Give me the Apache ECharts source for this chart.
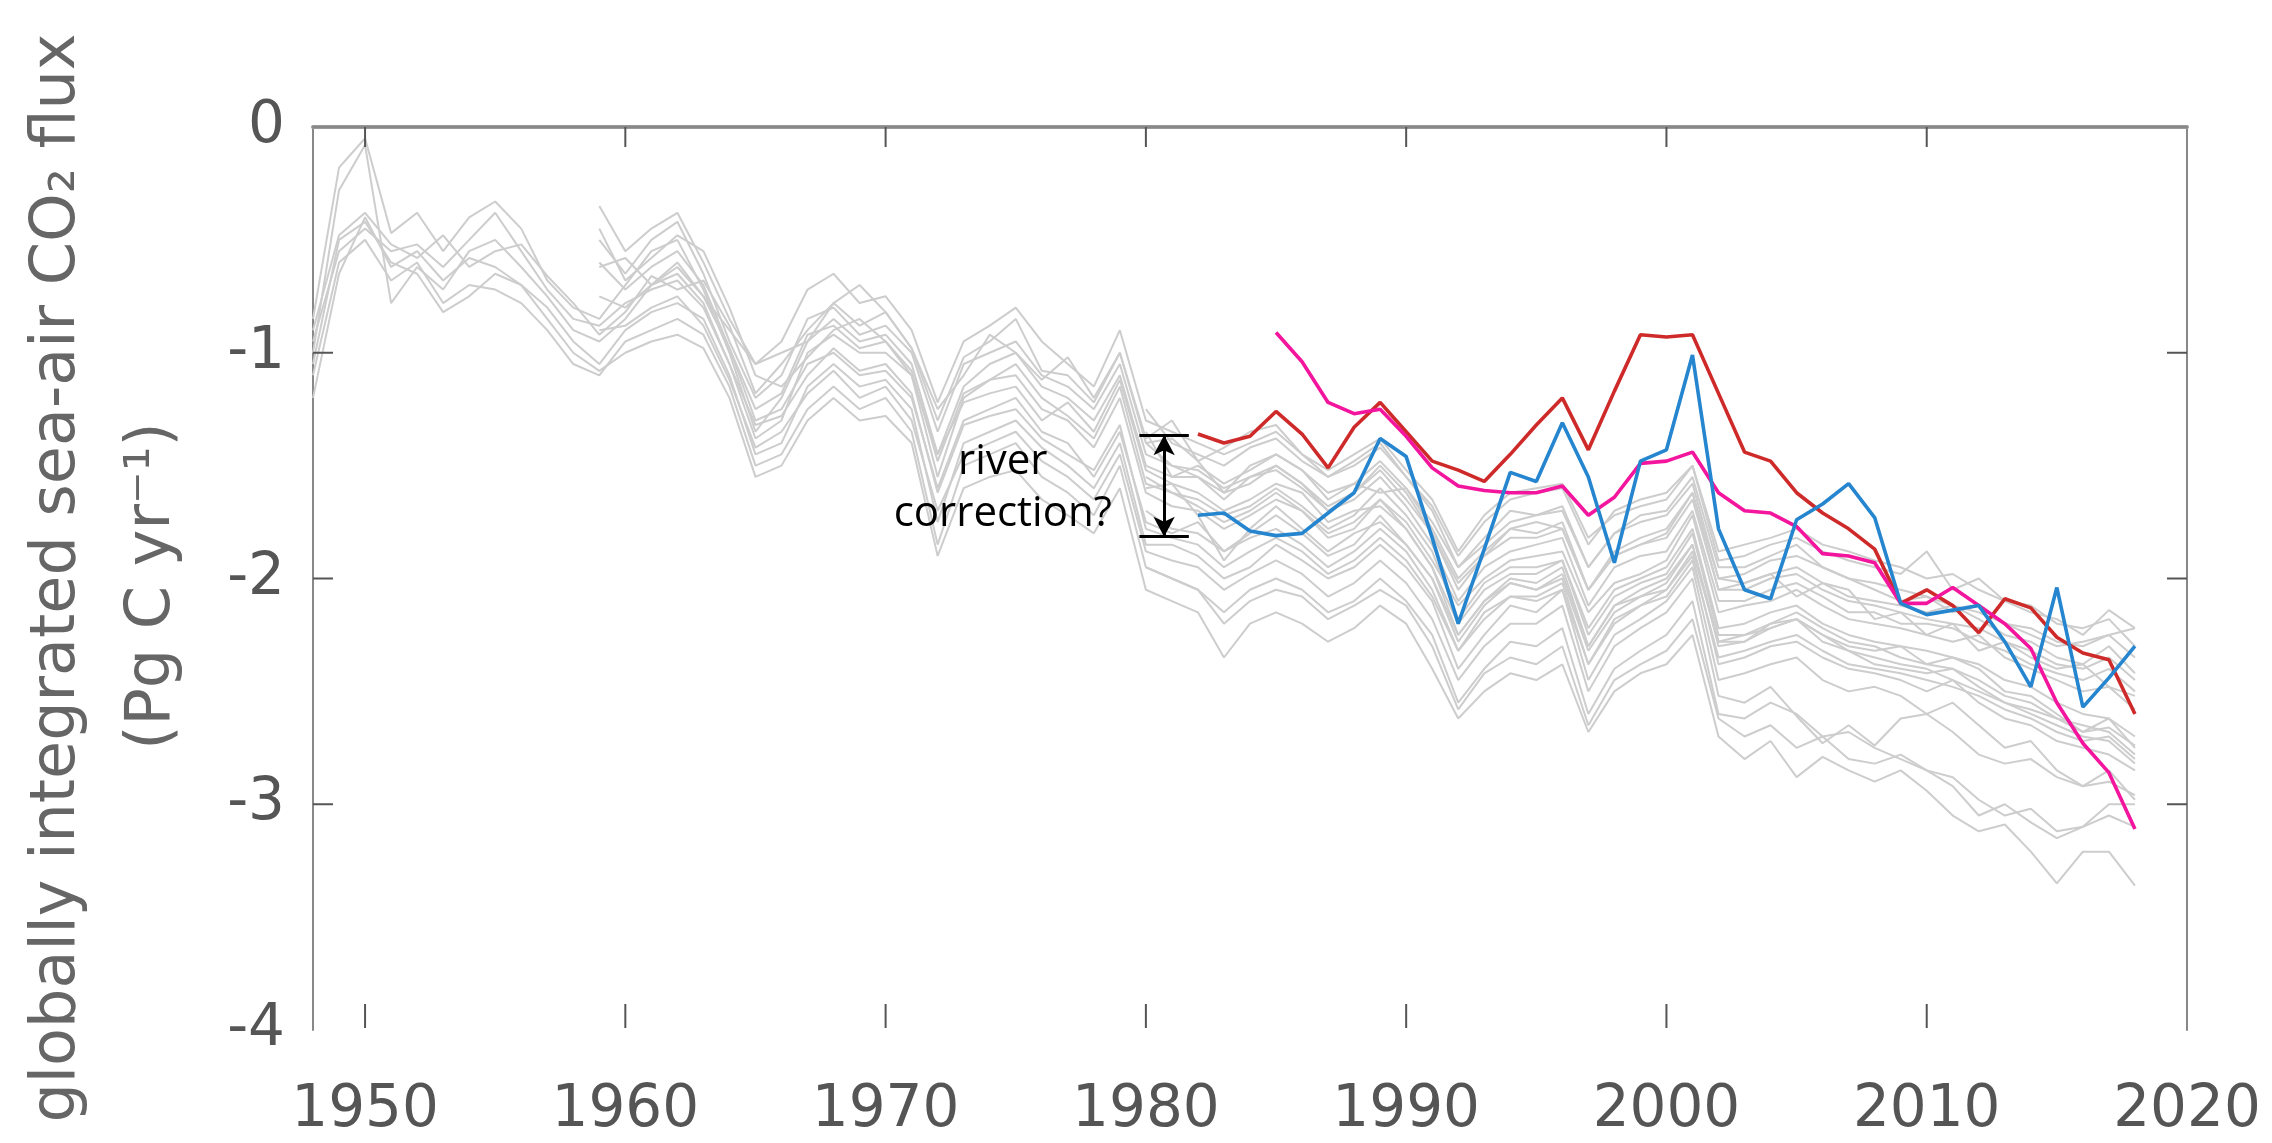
<!DOCTYPE html>
<html>
<head>
<meta charset="utf-8">
<script src="https://cdn.jsdelivr.net/npm/echarts@6/dist/echarts.min.js"></script>
<style>html,body{margin:0;padding:0;background:#fff}#c{width:2272px;height:1143px}</style>
</head>
<body>
<div id="c"></div>
<script>
// ---- tick labels ----
const xTicks = [1950, 1960, 1970, 1980, 1990, 2000, 2010, 2020];
const yTicks = [0, -1, -2, -3, -4];

// ---- gray model ensemble: runs starting 1948 ----
const grayA1 = [-0.85,-0.18,-0.05,-0.47,-0.38,-0.55,-0.40,-0.33,-0.45,-0.68,
 -0.80,-0.85,-0.70,-0.55,-0.50,-0.72,-1.00,-1.35,-1.20,-0.95,
 -0.85,-0.95,-0.92,-1.05,-1.45,-1.15,-1.05,-1.00,-1.15,-1.20,
 -1.30,-1.10,-1.50,-1.55,-1.55,-1.65,-1.55,-1.50,-1.58,-1.70,
 -1.62,-1.50,-1.62,-1.80,-2.05,-1.90,-1.78,-1.80,-1.75,-2.05,
 -1.88,-1.82,-1.78,-1.62,-2.05,-2.02,-1.98,-1.95,-2.02,-2.08,
 -2.10,-2.12,-2.15,-2.12,-2.18,-2.25,-2.28,-2.35,-2.38,-2.30,
 -2.42];
const grayA2 = [-1.00,-0.28,-0.08,-0.78,-0.62,-0.72,-0.55,-0.50,-0.62,-0.75,
 -0.90,-0.95,-0.85,-0.70,-0.60,-0.75,-0.98,-1.30,-1.25,-1.05,
 -1.00,-1.10,-1.08,-1.20,-1.60,-1.30,-1.25,-1.20,-1.35,-1.40,
 -1.55,-1.35,-1.75,-1.80,-1.75,-1.88,-1.80,-1.72,-1.80,-1.90,
 -1.85,-1.72,-1.85,-2.00,-2.25,-2.10,-2.00,-2.02,-1.95,-2.30,
 -2.12,-2.05,-2.00,-1.85,-2.30,-2.28,-2.20,-2.18,-2.25,-2.30,
 -2.32,-2.30,-2.38,-2.35,-2.40,-2.50,-2.52,-2.60,-2.68,-2.62,
 -2.75];
const grayA3 = [-1.20,-0.65,-0.40,-0.62,-0.55,-0.68,-0.58,-0.62,-0.70,-0.80,
 -0.95,-1.05,-0.90,-0.82,-0.78,-0.85,-1.10,-1.45,-1.40,-1.15,
 -1.05,-1.15,-1.12,-1.25,-1.75,-1.40,-1.35,-1.30,-1.42,-1.50,
 -1.60,-1.40,-1.85,-1.85,-1.90,-2.00,-1.95,-1.85,-1.92,-2.00,
 -1.95,-1.85,-1.95,-2.10,-2.40,-2.25,-2.12,-2.15,-2.05,-2.45,
 -2.25,-2.18,-2.10,-1.95,-2.45,-2.42,-2.38,-2.35,-2.45,-2.50,
 -2.48,-2.52,-2.60,-2.55,-2.65,-2.75,-2.72,-2.85,-2.92,-2.85,
 -2.98];
const grayA4 = [-0.95,-0.55,-0.45,-0.55,-0.52,-0.62,-0.50,-0.38,-0.55,-0.72,
 -0.85,-0.88,-0.78,-0.72,-0.68,-0.80,-1.05,-1.38,-1.30,-1.00,
 -0.92,-1.00,-1.00,-1.10,-1.55,-1.20,-1.12,-1.10,-1.25,-1.30,
 -1.42,-1.20,-1.62,-1.68,-1.70,-1.78,-1.72,-1.65,-1.70,-1.82,
 -1.78,-1.65,-1.75,-1.92,-2.12,-2.00,-1.92,-1.90,-1.88,-2.15,
 -2.02,-1.98,-1.92,-1.72,-2.15,-2.12,-2.10,-2.05,-2.12,-2.18,
 -2.20,-2.22,-2.25,-2.28,-2.25,-2.35,-2.40,-2.45,-2.50,-2.48,
 -2.58];
const grayA5 = [-1.10,-0.60,-0.50,-0.68,-0.60,-0.78,-0.70,-0.72,-0.78,-0.90,
 -1.05,-1.10,-0.95,-0.90,-0.85,-0.92,-1.15,-1.50,-1.45,-1.25,
 -1.15,-1.25,-1.20,-1.35,-1.85,-1.50,-1.45,-1.40,-1.55,-1.62,
 -1.72,-1.50,-1.95,-2.00,-2.05,-2.15,-2.05,-2.00,-2.05,-2.15,
 -2.10,-2.00,-2.10,-2.25,-2.55,-2.40,-2.28,-2.30,-2.22,-2.60,
 -2.40,-2.32,-2.25,-2.10,-2.60,-2.62,-2.55,-2.60,-2.70,-2.68,
 -2.75,-2.80,-2.85,-2.88,-2.98,-3.05,-3.02,-3.12,-3.10,-3.05,
 -3.10];
const grayA6 = [-1.05,-0.50,-0.42,-0.60,-0.65,-0.82,-0.75,-0.65,-0.70,-0.85,
 -1.00,-1.08,-1.00,-0.95,-0.92,-0.98,-1.20,-1.55,-1.50,-1.30,
 -1.20,-1.30,-1.28,-1.40,-1.90,-1.60,-1.55,-1.52,-1.65,-1.72,
 -1.80,-1.60,-2.05,-2.10,-2.15,-2.35,-2.20,-2.15,-2.20,-2.28,
 -2.22,-2.12,-2.20,-2.40,-2.62,-2.50,-2.42,-2.45,-2.38,-2.68,
 -2.50,-2.42,-2.38,-2.25,-2.70,-2.80,-2.72,-2.88,-2.79,-2.85,
 -2.90,-2.85,-2.94,-3.05,-3.12,-3.09,-3.21,-3.35,-3.21,-3.21,
 -3.36];
const grayA7 = [-0.90,-0.48,-0.38,-0.52,-0.58,-0.48,-0.62,-0.55,-0.52,-0.66,
 -0.78,-0.92,-0.82,-0.66,-0.72,-0.68,-0.88,-1.18,-1.05,-0.90,
 -0.78,-0.88,-0.82,-0.98,-1.30,-1.02,-0.95,-0.85,-1.08,-1.10,
 -1.22,-1.00,-1.40,-1.38,-1.48,-1.42,-1.35,-1.32,-1.45,-1.52,
 -1.45,-1.38,-1.52,-1.65,-1.88,-1.72,-1.62,-1.60,-1.58,-1.82,
 -1.72,-1.68,-1.65,-1.50,-1.88,-1.85,-1.82,-1.78,-1.85,-1.88,
 -1.92,-1.95,-2.00,-1.98,-2.05,-2.10,-2.12,-2.20,-2.22,-2.18,
 -2.30];

// ---- gray model ensemble: runs starting 1959 ----
const grayB1 = [-0.35,-0.55,-0.45,-0.38,-0.60,-0.85,-1.05,-0.95,-0.72,-0.65,
 -0.78,-0.75,-0.90,-1.22,-0.95,-0.88,-0.80,-0.95,-1.05,-1.15,
 -0.90,-1.30,-1.35,-1.40,-1.45,-1.40,-1.35,-1.45,-1.55,-1.48,
 -1.40,-1.55,-1.70,-1.95,-1.82,-1.70,-1.72,-1.68,-1.95,-1.80,
 -1.72,-1.70,-1.55,-1.95,-1.95,-1.90,-1.85,-1.95,-2.00,-2.05,
 -2.10,-2.08,-2.15,-2.12,-2.20,-2.25,-2.30,-2.28,-2.25,-2.22];
const grayB2 = [-0.50,-0.65,-0.50,-0.42,-0.65,-0.95,-1.20,-1.10,-0.85,-0.80,
 -0.92,-0.88,-1.00,-1.35,-1.05,-1.00,-0.95,-1.10,-1.15,-1.25,
 -1.05,-1.45,-1.50,-1.52,-1.60,-1.55,-1.52,-1.60,-1.70,-1.65,
 -1.55,-1.68,-1.85,-2.10,-1.95,-1.88,-1.85,-1.82,-2.12,-1.95,
 -1.90,-1.88,-1.70,-2.10,-2.10,-2.05,-2.02,-2.08,-2.15,-2.15,
 -2.20,-2.20,-2.22,-2.28,-2.32,-2.38,-2.42,-2.45,-2.40,-2.50];
const grayB3 = [-0.75,-0.80,-0.70,-0.65,-0.78,-1.05,-1.32,-1.28,-1.10,-0.98,
 -1.08,-1.05,-1.18,-1.62,-1.32,-1.28,-1.25,-1.38,-1.45,-1.52,
 -1.32,-1.78,-1.82,-1.85,-1.95,-1.88,-1.82,-1.88,-1.98,-1.92,
 -1.82,-1.92,-2.08,-2.32,-2.18,-2.08,-2.08,-2.02,-2.38,-2.18,
 -2.12,-2.05,-1.90,-2.38,-2.35,-2.30,-2.28,-2.35,-2.40,-2.42,
 -2.45,-2.50,-2.45,-2.55,-2.62,-2.65,-2.72,-2.75,-2.78,-2.85];
const grayB4 = [-0.60,-0.72,-0.62,-0.55,-0.70,-0.98,-1.25,-1.18,-0.92,-0.88,
 -0.98,-0.95,-1.08,-1.48,-1.18,-1.12,-1.05,-1.20,-1.28,-1.38,
 -1.15,-1.58,-1.62,-1.65,-1.72,-1.68,-1.60,-1.68,-1.78,-1.72,
 -1.60,-1.72,-1.88,-2.18,-2.02,-1.95,-1.95,-1.92,-2.22,-2.05,
 -2.00,-1.95,-1.78,-2.22,-2.20,-2.15,-2.12,-2.20,-2.25,-2.28,
 -2.30,-2.32,-2.35,-2.38,-2.45,-2.48,-2.55,-2.60,-2.62,-2.70];
const grayB5 = [-0.90,-0.88,-0.80,-0.75,-0.88,-1.12,-1.42,-1.35,-1.18,-1.08,
 -1.20,-1.15,-1.30,-1.70,-1.45,-1.40,-1.35,-1.48,-1.55,-1.65,
 -1.45,-1.88,-1.92,-1.95,-2.05,-1.98,-1.92,-1.98,-2.08,-2.02,
 -1.92,-2.02,-2.18,-2.45,-2.30,-2.20,-2.20,-2.12,-2.50,-2.30,
 -2.22,-2.15,-2.00,-2.52,-2.55,-2.48,-2.61,-2.73,-2.65,-2.74,
 -2.62,-2.60,-2.68,-2.78,-2.82,-2.80,-2.88,-2.92,-2.90,-2.96];
const grayB6 = [-0.62,-0.58,-0.70,-0.62,-0.75,-0.90,-1.05,-1.00,-0.95,-0.78,
 -0.70,-0.82,-0.98,-1.25,-1.10,-0.92,-1.00,-1.12,-1.02,-1.20,
 -1.00,-1.38,-1.30,-1.48,-1.62,-1.50,-1.45,-1.52,-1.65,-1.58,
 -1.62,-1.60,-1.78,-2.00,-1.88,-1.78,-1.75,-1.78,-2.05,-1.90,
 -1.85,-1.80,-1.62,-2.00,-2.02,-1.98,-2.08,-2.02,-2.05,-2.18,
 -2.15,-2.25,-2.20,-2.32,-2.28,-2.35,-2.40,-2.38,-2.48,-2.52];
const grayB7 = [-0.45,-0.68,-0.58,-0.48,-0.55,-0.80,-1.10,-1.15,-1.02,-0.90,
 -0.85,-0.95,-1.10,-1.45,-1.22,-1.18,-1.15,-1.30,-1.22,-1.35,
 -1.12,-1.52,-1.58,-1.62,-1.70,-1.65,-1.58,-1.62,-1.75,-1.70,
 -1.68,-1.78,-1.95,-2.25,-2.10,-2.02,-2.05,-1.98,-2.30,-2.12,
 -2.08,-2.02,-1.85,-2.28,-2.25,-2.22,-2.18,-2.25,-2.32,-2.38,
 -2.40,-2.42,-2.40,-2.48,-2.55,-2.58,-2.62,-2.68,-2.66,-2.74];

// ---- gray model ensemble: runs starting 1980 ----
const grayC1 = [-1.25,-1.40,-1.45,-1.50,-1.42,-1.38,-1.48,-1.55,-1.50,-1.42,
 -1.55,-1.68,-1.90,-1.75,-1.65,-1.62,-1.60,-1.85,-1.70,-1.65,
 -1.62,-1.50,-1.92,-1.90,-1.85,-1.82,-1.88,-1.92,-1.95,-1.98,
 -1.88,-2.05,-2.00,-2.10,-2.15,-2.18,-2.25,-2.14,-2.22];
const grayC2 = [-1.55,-1.62,-1.68,-1.75,-1.70,-1.62,-1.70,-1.80,-1.75,-1.65,
 -1.78,-1.95,-2.20,-2.05,-1.98,-1.98,-1.92,-2.25,-2.08,-2.02,
 -1.98,-1.80,-2.25,-2.25,-2.20,-2.15,-2.22,-2.28,-2.30,-2.35,
 -2.38,-2.40,-2.45,-2.52,-2.55,-2.62,-2.65,-2.68,-2.78];
const grayC3 = [-1.95,-2.00,-2.05,-2.20,-2.10,-2.05,-2.08,-2.18,-2.12,-2.05,
 -2.12,-2.30,-2.58,-2.42,-2.35,-2.38,-2.30,-2.65,-2.45,-2.38,
 -2.32,-2.18,-2.62,-2.70,-2.65,-2.75,-2.70,-2.80,-2.82,-2.78,
 -2.85,-2.92,-3.05,-3.00,-3.08,-3.15,-3.10,-3.00,-3.00];
const grayC4 = [-1.40,-1.50,-1.55,-1.62,-1.58,-1.50,-1.58,-1.68,-1.62,-1.52,
 -1.65,-1.80,-2.02,-1.90,-1.82,-1.82,-1.78,-2.05,-1.90,-1.85,
 -1.82,-1.65,-2.05,-2.05,-2.00,-1.98,-2.05,-2.10,-2.12,-2.15,
 -2.18,-2.20,-2.22,-2.28,-2.32,-2.38,-2.40,-2.35,-2.45];
const grayC5 = [-1.70,-1.78,-1.80,-1.88,-1.82,-1.78,-1.85,-1.95,-1.88,-1.78,
 -1.88,-2.05,-2.32,-2.15,-2.08,-2.10,-2.05,-2.38,-2.20,-2.12,
 -2.08,-1.92,-2.35,-2.32,-2.28,-2.25,-2.32,-2.38,-2.40,-2.42,
 -2.45,-2.48,-2.52,-2.58,-2.62,-2.68,-2.72,-2.70,-2.80];
const grayC6 = [-1.60,-1.58,-1.72,-1.92,-1.78,-1.68,-1.78,-1.88,-1.80,-1.75,
 -1.85,-2.00,-2.28,-2.12,-2.02,-2.05,-2.00,-2.32,-2.15,-2.08,
 -2.05,-1.88,-2.28,-2.28,-2.22,-2.18,-2.28,-2.32,-2.35,-2.38,
 -2.40,-2.45,-2.50,-2.55,-2.60,-2.65,-2.70,-2.72,-2.82];
const grayC7 = [-1.35,-1.55,-1.50,-1.58,-1.52,-1.45,-1.52,-1.62,-1.58,-1.48,
 -1.60,-1.75,-1.95,-1.85,-1.75,-1.72,-1.70,-1.95,-1.80,-1.75,
 -1.72,-1.58,-2.00,-1.98,-1.92,-1.90,-1.95,-2.00,-2.02,-2.05,
 -2.08,-2.12,-2.15,-2.20,-2.22,-2.28,-2.30,-2.25,-2.35];

// ---- highlighted estimates ----
const redStart = 1982;
const redValues = [-1.36,-1.40,-1.37,-1.26,-1.36,-1.51,-1.33,-1.22,-1.35,-1.48,
 -1.52,-1.57,-1.45,-1.32,-1.20,-1.43,-1.17,-0.92,-0.93,-0.92,
 -1.18,-1.44,-1.48,-1.62,-1.71,-1.78,-1.87,-2.11,-2.05,-2.12,
 -2.24,-2.09,-2.13,-2.26,-2.33,-2.36,-2.60];
const blueStart = 1982;
const blueValues = [-1.72,-1.71,-1.79,-1.81,-1.80,-1.71,-1.62,-1.38,-1.46,-1.82,
 -2.20,-1.87,-1.53,-1.57,-1.31,-1.55,-1.93,-1.48,-1.43,-1.01,
 -1.78,-2.05,-2.09,-1.74,-1.67,-1.58,-1.73,-2.11,-2.16,-2.14,
 -2.12,-2.28,-2.48,-2.04,-2.57,-2.44,-2.30];
const magentaStart = 1985;
const magentaValues = [-0.91,-1.04,-1.22,-1.27,-1.25,-1.37,-1.51,-1.59,-1.61,-1.62,
 -1.62,-1.59,-1.72,-1.64,-1.49,-1.48,-1.44,-1.62,-1.70,-1.71,
 -1.77,-1.89,-1.90,-1.93,-2.11,-2.11,-2.04,-2.12,-2.20,-2.31,
 -2.55,-2.73,-2.86,-3.11];

// ---- annotation (data coordinates) ----
const arrowX = 1980.7, arrowTop = -1.365, arrowBottom = -1.815;
const capHalf = 0.95;
const annotTextX = 1974.5, annotTextY = -1.60;

const grayRuns = [
  [1948, grayA1], [1948, grayA2], [1948, grayA3], [1948, grayA4], [1948, grayA5], [1948, grayA6], [1948, grayA7],
  [1959, grayB1], [1959, grayB2], [1959, grayB3], [1959, grayB4], [1959, grayB5], [1959, grayB6], [1959, grayB7],
  [1980, grayC1], [1980, grayC2], [1980, grayC3], [1980, grayC4], [1980, grayC5], [1980, grayC6], [1980, grayC7]
];
function pairs(start, vals) { return vals.map((v, i) => [start + i, v]); }

const series = [];
grayRuns.forEach(([s, v], k) => {
  series.push({
    type: 'line', name: 'model' + (k + 1), data: pairs(s, v),
    showSymbol: false, silent: true, z: 1,
    lineStyle: { color: '#cdcdcd', width: 2 }
  });
});
series.push({
  type: 'line', name: 'red', data: pairs(redStart, redValues), showSymbol: false, z: 3,
  lineStyle: { color: '#cf2a2a', width: 3.6 },
  markLine: {
    silent: true, animation: false,
    label: { show: false },
    lineStyle: { color: '#000', type: 'solid', width: 3 },
    data: [
      [{ coord: [arrowX, arrowTop], symbol: 'arrow', symbolSize: [16, 20] },
       { coord: [arrowX, arrowBottom], symbol: 'arrow', symbolSize: [16, 20] }],
      [{ coord: [arrowX - capHalf, arrowTop], symbol: 'none' },
       { coord: [arrowX + capHalf, arrowTop], symbol: 'none' }],
      [{ coord: [arrowX - capHalf, arrowBottom], symbol: 'none' },
       { coord: [arrowX + capHalf, arrowBottom], symbol: 'none' }]
    ]
  }
});
series.push({
  type: 'line', name: 'magenta', data: pairs(magentaStart, magentaValues), showSymbol: false, z: 4,
  lineStyle: { color: '#f3159d', width: 3.6 }
});
series.push({
  type: 'line', name: 'blue', data: pairs(blueStart, blueValues), showSymbol: false, z: 5,
  lineStyle: { color: '#2585cf', width: 3.6 }
});

const labelFont = { fontFamily: 'DejaVu Sans', fontSize: 58, color: '#555', formatter: v => String(v) };

const chart = echarts.init(document.getElementById('c'), null, { renderer: 'canvas' });
chart.setOption({
  animation: false,
  backgroundColor: '#ffffff',
  grid: { left: 313, right: 85, top: 127, bottom: 113 },
  xAxis: [
    { type: 'value', min: 1948, max: 2020, position: 'bottom',
      axisLine: { show: true, lineStyle: { color: '#9a9a9a', width: 4 } },
      axisTick: { show: false },
      axisLabel: Object.assign({ customValues: xTicks, margin: 52 }, labelFont),
      splitLine: { show: false } },
    { type: 'value', min: 1948, max: 2020, position: 'top',
      axisLine: { show: true, lineStyle: { color: '#888', width: 2 } },
      axisTick: { show: false },
      axisLabel: { show: false }, splitLine: { show: false } }
  ],
  yAxis: [
    { type: 'value', min: -4, max: 0, interval: 1, position: 'left',
      axisLine: { show: true, lineStyle: { color: '#888', width: 2 } },
      axisTick: { show: false },
      axisLabel: Object.assign({ margin: 28, customValues: yTicks }, labelFont),
      splitLine: { show: false } },
    { type: 'value', min: -4, max: 0, interval: 1, position: 'right',
      axisLine: { show: true, lineStyle: { color: '#888', width: 2 } },
      axisTick: { show: false },
      axisLabel: { show: false }, splitLine: { show: false } }
  ],
  series: series
});

// inward-pointing ticks on all four sides, positioned through the axes' own scales
const px = p => chart.convertToPixel({ xAxisIndex: 0, yAxisIndex: 0 }, p);
const ticks = [];
const tickStyle = { stroke: '#555', lineWidth: 2 };
xTicks.slice(0, -1).forEach(t => {
  const b = px([t, -4]), top = px([t, 0]);
  ticks.push({ type: 'line', z: 20, shape: { x1: b[0], y1: b[1] - 2, x2: b[0], y2: b[1] - 26 }, style: tickStyle });
  ticks.push({ type: 'line', z: 20, shape: { x1: top[0], y1: top[1], x2: top[0], y2: top[1] + 20 }, style: tickStyle });
});
[-1, -2, -3].forEach(t => {
  const l = px([1948, t]), r = px([2020, t]);
  ticks.push({ type: 'line', z: 20, shape: { x1: l[0], y1: l[1], x2: l[0] + 20, y2: l[1] }, style: tickStyle });
  ticks.push({ type: 'line', z: 20, shape: { x1: r[0], y1: r[1], x2: r[0] - 20, y2: r[1] }, style: tickStyle });
});

const tp = px([annotTextX, annotTextY]);
chart.setOption({
  graphic: ticks.concat([
    { type: 'text', x: 58, y: 578, rotation: Math.PI / 2,
      style: { text: 'globally integrated sea-air CO₂ flux', font: '62px "DejaVu Sans"', fill: '#666', align: 'center', verticalAlign: 'middle' } },
    { type: 'text', x: 153, y: 586, rotation: Math.PI / 2,
      style: { text: '(Pg C yr⁻¹)', font: '62px "DejaVu Sans"', fill: '#666', align: 'center', verticalAlign: 'middle' } },
    { type: 'text', x: tp[0], y: tp[1], z: 10,
      style: { text: 'river\ncorrection?', font: '42px "Open Sans"', lineHeight: 52, fill: '#000', align: 'center', verticalAlign: 'middle' } }
  ])
});
</script>
</body>
</html>
